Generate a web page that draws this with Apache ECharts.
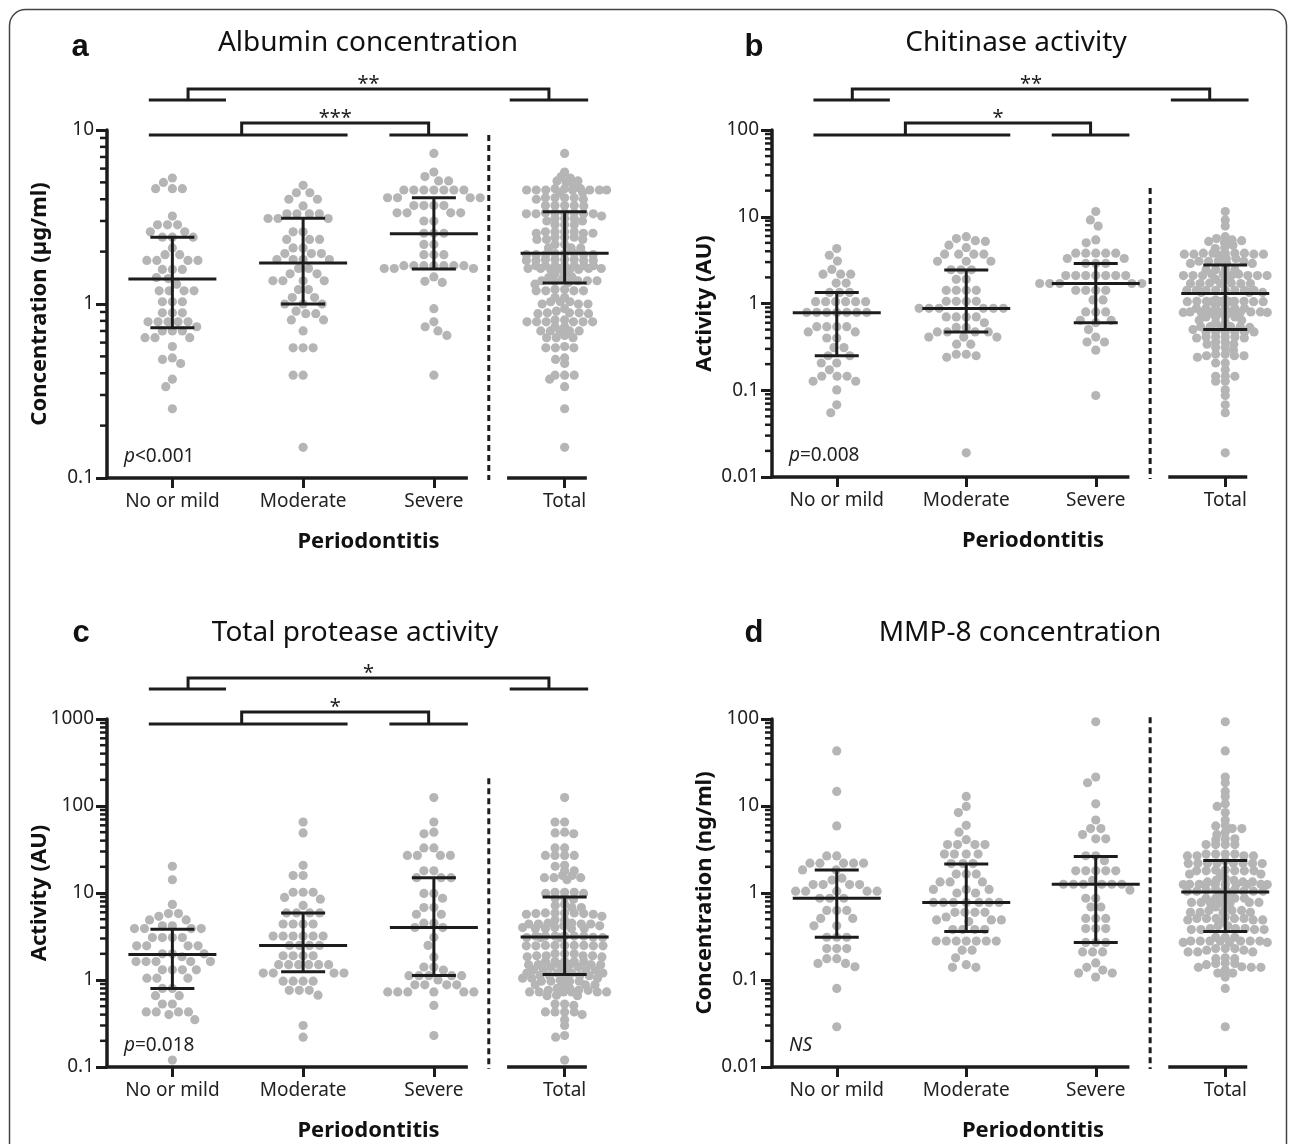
<!DOCTYPE html>
<html>
<head>
<meta charset="utf-8">
<script src="https://cdn.jsdelivr.net/npm/echarts/dist/echarts.min.js"></script>
<style>
  html, body { margin: 0; padding: 0; background: #fff; }
  #chart { width: 1290px; height: 1144px; }
</style>
</head>
<body>
<div id="chart"></div>
<script>
const categories = ['No or mild', 'Moderate', 'Severe', 'Total']

// a: albumin concentration (µg/ml)
const albuminRange = [0.1, 10]
const albuminNone = [5.3, 5.0, 4.6, 4.6, 4.6, 3.2, 2.85, 2.85, 2.85, 2.6, 2.6, 2.42, 2.42, 2.42, 2.1, 1.92, 1.92, 1.78, 1.78, 1.78, 1.78, 1.58, 1.58, 1.58, 1.42, 1.4, 1.3, 1.19, 1.19, 1.19, 1.19, 1.03, 1.03, 1.03, 0.89, 0.89, 0.89, 0.79, 0.79, 0.79, 0.79, 0.79, 0.74, 0.7, 0.7, 0.7, 0.64, 0.64, 0.64, 0.57, 0.49, 0.48, 0.455, 0.37, 0.335, 0.25]
const albuminModerate = [4.81, 4.36, 4.36, 4.0, 4.0, 3.66, 3.3, 3.3, 3.3, 3.3, 3.1, 3.1, 3.1, 2.6, 2.6, 2.35, 2.35, 2.35, 2.1, 2.1, 1.95, 1.95, 1.95, 1.8, 1.8, 1.8, 1.8, 1.6, 1.6, 1.49, 1.49, 1.36, 1.36, 1.36, 1.36, 1.21, 1.21, 1.09, 1.09, 1.0, 1.0, 1.0, 0.91, 0.88, 0.88, 0.81, 0.81, 0.7, 0.56, 0.56, 0.56, 0.39, 0.39, 0.15]
const albuminSevere = [7.33, 5.73, 5.4, 5.1, 5.1, 4.52, 4.52, 4.52, 4.52, 4.52, 4.52, 4.52, 4.08, 4.08, 4.08, 4.08, 3.68, 3.68, 3.68, 3.68, 3.34, 3.34, 3.34, 3.34, 3.0, 3.0, 2.55, 2.55, 2.55, 2.2, 2.2, 1.92, 1.92, 1.92, 1.66, 1.66, 1.66, 1.66, 1.66, 1.66, 1.66, 1.6, 1.6, 1.6, 1.43, 1.35, 1.33, 0.94, 0.79, 0.74, 0.7, 0.66, 0.39]
const albuminMedian = [1.39, 1.72, 2.53, 1.96]
const albuminQ1 = [0.73, 1.0, 1.59, 1.32]
const albuminQ3 = [2.42, 3.11, 4.08, 3.39]

// b: chitinase activity (AU)
const chitinaseRange = [0.01, 100]
const chitinaseNone = [4.3, 3.6, 3.08, 2.47, 2.18, 2.18, 2.18, 1.72, 1.72, 1.34, 1.34, 1.34, 1.05, 1.05, 1.05, 1.05, 1.05, 1.05, 0.79, 0.79, 0.79, 0.79, 0.79, 0.79, 0.79, 0.54, 0.54, 0.54, 0.54, 0.47, 0.47, 0.4, 0.4, 0.31, 0.31, 0.25, 0.25, 0.206, 0.206, 0.172, 0.145, 0.145, 0.145, 0.127, 0.127, 0.101, 0.068, 0.055]
const chitinaseModerate = [5.9, 5.6, 5.3, 5.2, 4.7, 4.4, 3.7, 3.7, 3.7, 3.7, 3.07, 3.07, 3.07, 2.45, 2.45, 2.45, 1.9, 1.9, 1.42, 1.42, 1.42, 1.42, 1.06, 1.06, 1.06, 1.06, 0.88, 0.88, 0.88, 0.88, 0.88, 0.88, 0.7, 0.7, 0.7, 0.7, 0.6, 0.53, 0.53, 0.47, 0.47, 0.47, 0.47, 0.41, 0.41, 0.41, 0.34, 0.34, 0.26, 0.26, 0.25, 0.24, 0.019]
const chitinaseSevere = [11.5, 9.2, 7.8, 5.4, 5.0, 3.8, 3.8, 3.8, 3.8, 3.8, 3.3, 3.3, 2.9, 2.9, 2.9, 2.1, 2.1, 2.1, 2.1, 2.1, 2.1, 2.1, 1.7, 1.7, 1.7, 1.7, 1.7, 1.42, 1.42, 1.42, 1.42, 1.1, 1.1, 0.8, 0.8, 0.8, 0.64, 0.64, 0.6, 0.5, 0.41, 0.36, 0.36, 0.29, 0.087]
const chitinaseMedian = [0.78, 0.875, 1.7, 1.3]
const chitinaseQ1 = [0.25, 0.47, 0.6, 0.5]
const chitinaseQ3 = [1.34, 2.43, 2.9, 2.77]

// c: total protease activity (AU)
const proteaseRange = [0.1, 1000]
const proteaseNone = [20.3, 14.2, 7.4, 5.8, 5.8, 5.4, 4.9, 4.9, 4.2, 4.2, 3.9, 3.9, 3.9, 3.9, 3.07, 3.07, 3.07, 3.07, 2.47, 2.47, 2.47, 2.47, 2.0, 2.0, 2.0, 1.85, 1.63, 1.63, 1.63, 1.63, 1.63, 1.31, 1.31, 1.31, 1.31, 1.05, 1.05, 1.05, 0.8, 0.8, 0.66, 0.66, 0.53, 0.53, 0.43, 0.43, 0.43, 0.43, 0.4, 0.35, 0.12]
const proteaseModerate = [65.5, 49, 20.8, 15.9, 15.9, 10.2, 10.2, 10.2, 8.9, 8.5, 7.2, 5.9, 5.9, 5.9, 5.9, 4.4, 4.4, 4.4, 4.4, 3.2, 3.2, 3.2, 3.2, 3.2, 3.2, 2.5, 2.5, 2.5, 2.5, 1.9, 1.9, 1.9, 1.9, 1.5, 1.5, 1.5, 1.5, 1.5, 1.5, 1.2, 1.2, 1.2, 1.2, 0.97, 0.97, 0.97, 0.97, 0.76, 0.76, 0.76, 0.67, 0.3, 0.22]
const proteaseSevere = [125, 65.5, 50, 48, 33, 33, 27, 27, 27, 27, 18, 18, 15, 15, 15, 9.9, 9.9, 8.7, 6.8, 6.8, 5.7, 5.7, 4.5, 4.5, 4.0, 4.0, 3.1, 2.5, 1.84, 1.41, 1.41, 1.3, 1.12, 1.12, 1.12, 1.12, 1.12, 1.0, 0.88, 0.88, 0.88, 0.88, 0.73, 0.73, 0.73, 0.73, 0.73, 0.73, 0.51, 0.23]
const proteaseMedian = [1.97, 2.5, 4.0, 3.12]
const proteaseQ1 = [0.8, 1.24, 1.13, 1.16]
const proteaseQ3 = [3.83, 5.9, 15, 9.0]

// d: MMP-8 concentration (ng/ml)
const mmp8Range = [0.01, 100]
const mmp8None = [43, 14.7, 5.9, 2.67, 2.67, 2.2, 2.2, 2.2, 2.2, 2.2, 1.84, 1.84, 1.48, 1.41, 1.25, 1.25, 1.25, 1.25, 1.05, 1.05, 1.05, 1.05, 1.05, 0.87, 0.87, 0.87, 0.63, 0.63, 0.63, 0.51, 0.51, 0.42, 0.42, 0.31, 0.31, 0.31, 0.23, 0.23, 0.23, 0.176, 0.176, 0.155, 0.155, 0.142, 0.08, 0.029]
const mmp8Moderate = [12.9, 9.9, 8.4, 6.0, 5.0, 4.1, 3.6, 3.6, 3.6, 3.6, 2.8, 2.8, 2.8, 2.8, 2.18, 2.18, 2.18, 1.65, 1.65, 1.65, 1.34, 1.34, 1.34, 1.1, 1.1, 1.1, 1.0, 1.0, 0.78, 0.78, 0.78, 0.78, 0.78, 0.78, 0.78, 0.6, 0.6, 0.6, 0.6, 0.53, 0.49, 0.49, 0.49, 0.47, 0.38, 0.38, 0.38, 0.38, 0.28, 0.28, 0.28, 0.28, 0.28, 0.28, 0.28, 0.22, 0.22, 0.18, 0.15, 0.14, 0.14]
const mmp8Severe = [93, 21.5, 18.5, 10.6, 6.9, 5.5, 5.5, 4.7, 4.2, 4.2, 2.68, 2.68, 2.35, 1.8, 1.8, 1.8, 1.8, 1.8, 1.4, 1.26, 1.26, 1.26, 1.26, 1.26, 1.26, 1.08, 0.87, 0.87, 0.69, 0.69, 0.51, 0.51, 0.51, 0.39, 0.39, 0.39, 0.27, 0.27, 0.27, 0.21, 0.21, 0.21, 0.157, 0.14, 0.13, 0.12, 0.12, 0.108]
const mmp8Median = [0.87, 0.78, 1.26, 1.03]
const mmp8Q1 = [0.31, 0.36, 0.27, 0.36]
const mmp8Q3 = [1.84, 2.16, 2.62, 2.36]

const INK = '#1c1c1c'
const DOT = '#b5b5b5'

let panels = [
  {
    letter: 'a', title: 'Albumin concentration', yName: 'Concentration (µg/ml)', note: '{i|p}<0.001',
    range: albuminRange, groups: [albuminNone, albuminModerate, albuminSevere],
    median: albuminMedian, q1: albuminQ1, q3: albuminQ3,
    sig: ['**', '***'], dashTop: 9.36,
    grid: { left: 107, top: 130, width: 523, height: 348 },
    titlePos: [368, 43], letterPos: [80, 47]
  },
  {
    letter: 'b', title: 'Chitinase activity', yName: 'Activity (AU)', note: '{i|p}=0.008',
    range: chitinaseRange, groups: [chitinaseNone, chitinaseModerate, chitinaseSevere],
    median: chitinaseMedian, q1: chitinaseQ1, q3: chitinaseQ3,
    sig: ['**', '*'], dashTop: 21.5,
    grid: { left: 772, top: 130, width: 522, height: 347 },
    titlePos: [1016, 43], letterPos: [754, 47]
  },
  {
    letter: 'c', title: 'Total protease activity', yName: 'Activity (AU)', note: '{i|p}=0.018',
    range: proteaseRange, groups: [proteaseNone, proteaseModerate, proteaseSevere],
    median: proteaseMedian, q1: proteaseQ1, q3: proteaseQ3,
    sig: ['*', '*'], dashTop: 208,
    grid: { left: 107, top: 719, width: 523, height: 348 },
    titlePos: [355, 633], letterPos: [81, 633]
  },
  {
    letter: 'd', title: 'MMP-8 concentration', yName: 'Concentration (ng/ml)', note: '{i|NS}',
    range: mmp8Range, groups: [mmp8None, mmp8Moderate, mmp8Severe],
    median: mmp8Median, q1: mmp8Q1, q3: mmp8Q3,
    sig: null, dashTop: 105,
    grid: { left: 772, top: 719, width: 522, height: 348 },
    titlePos: [1020, 633], letterPos: [754, 633]
  }
]

// beeswarm: push each dot sideways until it no longer overlaps;
// if nothing fits inside maxW, take the least crowded spot inside it
let swarm = (values, toPx, dx, dy, maxW) => {
  let order = values.map((v, i) => i).sort((a, b) => values[b] - values[a])
  let placed = []
  let offs = []
  let dist = (p, x, y) => Math.sqrt(((p.x - x) / dx) ** 2 + ((p.y - y) / dy) ** 2)
  order.forEach(i => {
    let y = toPx(values[i])
    let near = placed.filter(p => Math.abs(p.y - y) < dy)
    let cands = [0]
    near.forEach(p => {
      let w = dx * Math.sqrt(1 - ((p.y - y) / dy) ** 2)
      cands.push(p.x + w, p.x - w)
    })
    cands = cands.filter(c => Math.abs(c) <= maxW + 0.01)
    cands.sort((a, b) => Math.abs(a) - Math.abs(b) || a - b)
    let x = cands.find(c => near.every(p => dist(p, c, y) >= 0.999))
    if (x === undefined) {
      let best = -1
      for (let c = -maxW; c <= maxW; c += 1) {
        let s = Math.min(...near.map(p => dist(p, c, y)))
        if (s > best + 1e-6 || (Math.abs(s - best) < 1e-6 && Math.abs(c) < Math.abs(x))) { best = s; x = c }
      }
    }
    placed.push({ x, y })
    offs[i] = x
  })
  return offs
}

let dotData = p => {
  let lo = Math.log10(p.range[0])
  let hi = Math.log10(p.range[1])
  let toPx = v => p.grid.height * (Math.log10(v) - lo) / (hi - lo)
  let out = []
  let all = []
  p.groups.forEach((g, gi) => {
    let offs = swarm(g, toPx, 10, 10, 60)
    g.forEach((v, k) => out.push([gi, v, offs[k]]))
    all = all.concat(g)
  })
  let offs = swarm(all, toPx, 9.6, 4.8, 42)
  all.forEach((v, k) => out.push([3, v, offs[k]]))
  return out
}

let line = (x1, y1, x2, y2, extra) => ({
  type: 'line',
  shape: { x1, y1, x2, y2 },
  style: Object.assign({ stroke: INK, lineWidth: 3 }, extra || {})
})

let decorItem = p => (params, api) => {
  let cs = params.coordSys
  let band = cs.width / 4
  let cx = u => cs.x + (u + 0.5) * band
  let top = cs.y
  let bottom = cs.y + cs.height
  let kids = []
  // broken x axis
  kids.push(line(cs.x - 1.5, bottom, cx(2.26), bottom, { lineWidth: 3.5 }))
  kids.push(line(cx(2.56), bottom, cx(3.17), bottom, { lineWidth: 3.5 }))
  // dashed divider before Total
  kids.push(line(cx(2.42), api.coord([0, p.dashTop])[1], cx(2.42), bottom + 2, { lineDash: [6, 4] }))
  // log minor ticks
  let k0 = Math.round(Math.log10(p.range[0]))
  let k1 = Math.round(Math.log10(p.range[1]))
  for (let k = k0; k < k1; k++) {
    for (let m = 2; m <= 9; m++) {
      let y = api.coord([0, m * Math.pow(10, k)])[1]
      kids.push(line(cs.x - 7, y, cs.x, y, { lineWidth: 2.5 }))
    }
  }
  if (p.sig) {
    // upper: No or mild vs Total
    let yS = top - 30, yT = top - 41
    kids.push(line(cx(-0.18), yS, cx(0.41), yS))
    kids.push(line(cx(2.58), yS, cx(3.18), yS))
    kids.push({ type: 'polyline', shape: { points: [[cx(0.12), yS], [cx(0.12), yT], [cx(2.88), yT], [cx(2.88), yS]] }, style: { stroke: INK, lineWidth: 3, fill: null } })
    kids.push({ type: 'text', style: { text: p.sig[0], x: cx(1.5), y: top - 46, align: 'center', verticalAlign: 'middle', fontSize: 20, fontFamily: 'Noto Sans', fill: INK } })
    // lower: no-or-mild + moderate vs severe
    yS = top + 5; yT = top - 7
    kids.push(line(cx(-0.18), yS, cx(1.34), yS))
    kids.push(line(cx(1.66), yS, cx(2.26), yS))
    kids.push({ type: 'polyline', shape: { points: [[cx(0.53), yS], [cx(0.53), yT], [cx(1.96), yT], [cx(1.96), yS]] }, style: { stroke: INK, lineWidth: 3, fill: null } })
    kids.push({ type: 'text', style: { text: p.sig[1], x: cx(1.245), y: top - 12, align: 'center', verticalAlign: 'middle', fontSize: 20, fontFamily: 'Noto Sans', fill: INK } })
  }
  return { type: 'group', children: kids }
}

let option = {
  animation: false,
  backgroundColor: '#fff',
  textStyle: { fontFamily: 'Noto Sans' },
  grid: panels.map(p => p.grid),
  xAxis: panels.map((p, i) => ({
    type: 'category',
    gridIndex: i,
    data: categories,
    boundaryGap: true,
    axisLine: { show: false },
    axisTick: { show: true, alignWithLabel: true, length: 10, lineStyle: { color: INK, width: 3 } },
    axisLabel: { interval: 0, fontSize: 19, color: '#222', margin: 14 },
    splitLine: { show: false }
  })),
  yAxis: panels.map((p, i) => ({
    type: 'log',
    logBase: 10,
    gridIndex: i,
    min: p.range[0],
    max: p.range[1],
    axisLine: { show: true, lineStyle: { color: INK, width: 3.5 } },
    axisTick: { show: true, length: 11, lineStyle: { color: INK, width: 3 } },
    axisLabel: { fontSize: 19, color: '#222', margin: 13, formatter: v => String(parseFloat(Number(v).toPrecision(6))) },
    splitLine: { show: false }
  })),
  series: [],
  graphic: [
    {
      type: 'rect',
      shape: { x: 9.5, y: 9.5, width: 1277, height: 1200, r: 16 },
      style: { fill: null, stroke: '#444', lineWidth: 1.5 },
      silent: true
    }
  ]
}

panels.forEach((p, i) => {
  option.series.push({
    type: 'custom',
    xAxisIndex: i,
    yAxisIndex: i,
    clip: false,
    z: 2,
    data: dotData(p),
    renderItem: (params, api) => {
      let pt = api.coord([api.value(0), api.value(1)])
      return { type: 'circle', shape: { cx: pt[0] + api.value(2), cy: pt[1], r: 4.6 }, style: { fill: DOT } }
    }
  })
  option.series.push({
    type: 'custom',
    xAxisIndex: i,
    yAxisIndex: i,
    clip: false,
    z: 3,
    data: categories.map((c, k) => [k, p.median[k], p.q1[k], p.q3[k]]),
    renderItem: (params, api) => {
      let m = api.coord([api.value(0), api.value(1)])
      let a = api.coord([api.value(0), api.value(2)])
      let b = api.coord([api.value(0), api.value(3)])
      let x = m[0]
      return {
        type: 'group',
        children: [
          line(x, a[1], x, b[1]),
          line(x - 44, m[1], x + 44, m[1]),
          line(x - 22, a[1], x + 22, a[1]),
          line(x - 22, b[1], x + 22, b[1])
        ]
      }
    }
  })
  option.series.push({
    type: 'custom',
    xAxisIndex: i,
    yAxisIndex: i,
    clip: false,
    z: 4,
    silent: true,
    data: [[0, p.range[0]]],
    renderItem: decorItem(p)
  })

  let g = p.grid
  option.graphic.push(
    { type: 'text', x: p.letterPos[0], y: p.letterPos[1], style: { text: p.letter, fontSize: 31, fontWeight: 'bold', fontFamily: 'Liberation Sans', fill: '#111', align: 'center', verticalAlign: 'middle' } },
    { type: 'text', x: p.titlePos[0], y: p.titlePos[1], style: { text: p.title, fontSize: 28, fontFamily: 'Noto Sans', fill: '#111', align: 'center', verticalAlign: 'middle' } },
    { type: 'text', x: g.left - 67, y: g.top + g.height / 2, rotation: Math.PI / 2, style: { text: p.yName, fontSize: 22, fontWeight: 'bold', fontFamily: 'Noto Sans', fill: '#111', align: 'center', verticalAlign: 'middle' } },
    { type: 'text', x: g.left + g.width / 2, y: g.top + g.height + 64, style: { text: 'Periodontitis', fontSize: 22, fontWeight: 'bold', fontFamily: 'Noto Sans', fill: '#111', align: 'center', verticalAlign: 'middle' } },
    { type: 'text', x: g.left + 17, y: g.top + g.height - 21, style: { text: p.note, fontSize: 19, fontFamily: 'Noto Sans', fill: '#222', align: 'left', verticalAlign: 'middle', rich: { i: { fontSize: 19, fontStyle: 'italic', fontFamily: 'Noto Sans', fill: '#222' } } } }
  )
})

let chart = echarts.init(document.getElementById('chart'))
chart.setOption(option)
</script>
</body>
</html>
